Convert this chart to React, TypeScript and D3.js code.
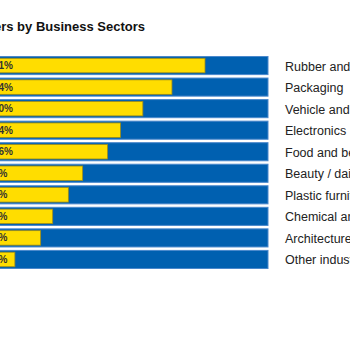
import React, { useEffect, useRef } from "react";
import * as d3 from "d3";

const title = "Distribution of Customers by Business Sectors";
const categories = [
  "Rubber and plastics",
  "Packaging",
  "Vehicle and parts",
  "Electronics",
  "Food and beverage",
  "Beauty / daily chemicals",
  "Plastic furniture",
  "Chemical and materials",
  "Architecture",
  "Other industries",
];
// bar length (% of the track)
const barValues = [77.5, 65.7, 55.3, 47.3, 42.7, 33.8, 28.7, 23.1, 18.8, 9.6];
// share shown inside each bar
const shares = [41, 34, 30, 24, 16, 9, 7, 5, 4, 2];

export default function App() {
  const ref = useRef<SVGSVGElement | null>(null);

  useEffect(() => {
    const width = 350;
    const height = 350;

    const svg = d3.select(ref.current);
    svg.selectAll("*").remove();

    // track runs past the left edge, the picture is cropped there
    const x = d3.scaleLinear().domain([0, 100]).range([-12, 268]);
    const y = d3
      .scaleBand<string>()
      .domain(categories)
      .range([56.5, 268.5])
      .paddingInner(0.16)
      .paddingOuter(0);

    svg
      .append("text")
      .attr("x", 145)
      .attr("y", 31)
      .attr("text-anchor", "end")
      .attr("font-family", "Liberation Sans, Arial, sans-serif")
      .attr("font-size", 13)
      .attr("font-weight", "bold")
      .attr("fill", "#111")
      .text(title);

    const rows = svg
      .append("g")
      .selectAll("g")
      .data(categories.map((c, i) => ({ c, v: barValues[i], s: shares[i] })))
      .join("g");

    // blue track
    rows
      .append("rect")
      .attr("x", x(0))
      .attr("y", (d) => y(d.c)!)
      .attr("width", x(100) - x(0))
      .attr("height", y.bandwidth())
      .attr("fill", "#0060b0")
      .attr("stroke", "#4a88cc")
      .attr("stroke-width", 1);

    // yellow value bar
    rows
      .append("rect")
      .attr("x", x(0))
      .attr("y", (d) => y(d.c)! + 1.8)
      .attr("width", (d) => x(d.v) - x(0))
      .attr("height", y.bandwidth() - 3.6)
      .attr("fill", "#ffdd00")
      .attr("stroke", "#9c8a1a")
      .attr("stroke-width", 0.8);

    rows
      .append("text")
      .attr("x", x(0) + 5)
      .attr("y", (d) => y(d.c)! + y.bandwidth() / 2)
      .attr("dy", "0.35em")
      .attr("font-family", "Liberation Sans, Arial, sans-serif")
      .attr("font-size", 10)
      .attr("font-weight", "bold")
      .attr("fill", "#333")
      .text((d) => `${d.s}%`);

    rows
      .append("text")
      .attr("x", 285)
      .attr("y", (d) => y(d.c)! + y.bandwidth() / 2)
      .attr("dy", "0.4em")
      .attr("font-family", "Liberation Sans, Arial, sans-serif")
      .attr("font-size", 12.5)
      .attr("fill", "#222")
      .text((d) => d.c);

    svg.attr("width", width).attr("height", height);
  }, []);

  return (
    <svg
      ref={ref}
      width={350}
      height={350}
      style={{ position: "absolute", left: 0, top: 0, background: "#fff" }}
    />
  );
}
